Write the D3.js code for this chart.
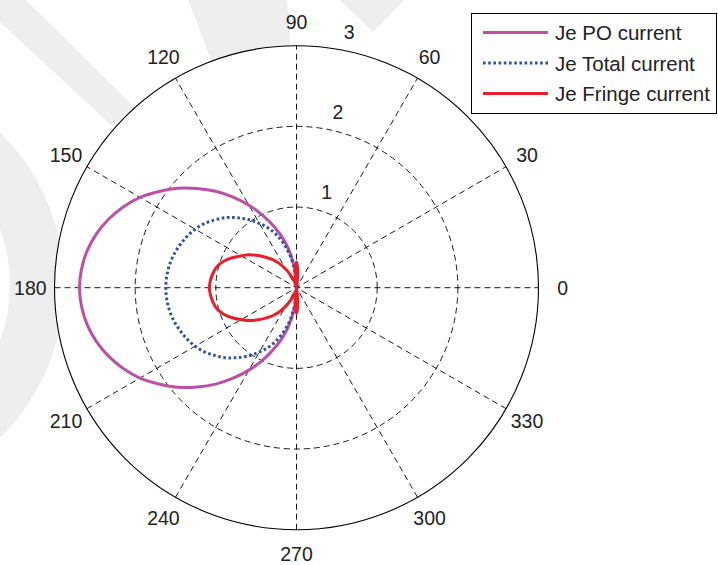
<!DOCTYPE html>
<html>
<head>
<meta charset="utf-8">
<script src="https://cdn.jsdelivr.net/npm/d3@7"></script>
<style>
  html, body { margin: 0; padding: 0; background: #fff; }
  svg { display: block; }
  text { font-family: "Liberation Sans", Arial, Helvetica, sans-serif; fill: #222; }
</style>
</head>
<body>
<svg id="chart" width="718" height="565"></svg>
<script>
// ---- data (angles in degrees, radii in plot units) ----
const angles = [80,85,90,95,100,105,110,115,120,125,130,135,140,145,150,155,160,165,170,175,180,
                185,190,195,200,205,210,215,220,225,230,235,240,245,250,255,260,265,270,275,280];
const poCurrent = [0,0,0,0.21,0.42,0.62,0.80,0.99,1.18,1.37,1.56,1.74,1.92,2.08,2.24,2.37,2.48,2.57,2.635,2.675,2.69,
                   2.675,2.635,2.57,2.48,2.37,2.24,2.08,1.92,1.74,1.56,1.37,1.18,0.99,0.80,0.62,0.42,0.21,0,0,0];
const totalCurrent = [0,0,0,0.18,0.36,0.53,0.68,0.81,0.92,1.03,1.13,1.23,1.31,1.39,1.45,1.50,1.54,1.575,1.60,1.615,1.62,
                      1.615,1.60,1.575,1.54,1.50,1.45,1.39,1.31,1.23,1.13,1.03,0.92,0.81,0.68,0.53,0.36,0.18,0,0,0];
const fringeCurrent = [0,0.18,0.32,0.18,0.04,0.05,0.10,0.17,0.26,0.36,0.45,0.53,0.62,0.71,0.79,0.88,0.96,1.02,1.05,1.07,1.08,
                       1.07,1.05,1.02,0.96,0.88,0.79,0.71,0.62,0.53,0.45,0.36,0.26,0.17,0.10,0.05,0.04,0.18,0.32,0.18,0];
const seriesNames = ["Je PO current", "Je Total current", "Je Fringe current"];
const angleTicks = [0,30,60,90,120,150,180,210,240,270,300,330];
const radialTicks = [1,2,3];
const rMax = 3;

// ---- layout ----
const svg = d3.select("#chart");
const cx = 296.5, cy = 287.7, R = 242;
const r = d3.scaleLinear().domain([0, rMax]).range([0, R]);
const toRad = d => d * Math.PI / 180;
// d3.lineRadial: angle 0 at 12 o'clock, clockwise; polar math: 0 at 3 o'clock, counter-clockwise
const lineAngle = d => toRad(90 - d);

// ---- faint watermark behind the plot ----
const wm = svg.append("g").attr("fill", "#eeeeee");
wm.append("path").attr("d", d3.arc()({innerRadius: 160, outerRadius: 214, startAngle: 0, endAngle: Math.PI}))
  .attr("transform", "translate(-150,285)");
wm.append("path").attr("d", "M0,0 L26,0 L135,108 L112,126 L0,22 Z");
wm.append("path").attr("d", "M188,0 L287,0 L292,70 L215,70 Z");
wm.append("path").attr("d", "M340,0 L404,0 L373,32 Z");

const g = svg.append("g").attr("transform", `translate(${cx},${cy})`);

// white disk
g.append("circle").attr("r", R).attr("fill", "#fff");

// dashed rings
g.selectAll("circle.ring").data(radialTicks.filter(t => t < rMax)).join("circle")
  .attr("class", "ring").attr("r", d => r(d))
  .attr("fill", "none").attr("stroke", "#000").attr("stroke-width", 0.9)
  .attr("stroke-dasharray", "6,4");

// spokes (full diameters)
g.selectAll("line.spoke").data(angleTicks.filter(a => a < 180)).join("line")
  .attr("class", "spoke")
  .attr("x1", d => -R * Math.cos(toRad(d))).attr("y1", d => R * Math.sin(toRad(d)))
  .attr("x2", d => R * Math.cos(toRad(d))).attr("y2", d => -R * Math.sin(toRad(d)))
  .attr("stroke", "#000").attr("stroke-width", 0.9).attr("stroke-dasharray", "6,4");

// outer circle
g.append("circle").attr("r", R).attr("fill", "none").attr("stroke", "#000").attr("stroke-width", 1.1);

// angle labels
g.selectAll("text.ang").data(angleTicks).join("text")
  .attr("class", "ang")
  .attr("x", d => 1.1 * R * Math.cos(toRad(d)))
  .attr("y", d => -1.1 * R * Math.sin(toRad(d)))
  .attr("text-anchor", "middle").attr("dominant-baseline", "central")
  .attr("font-size", 19.5)
  .text(d => d);

// radial labels
g.selectAll("text.rad").data(radialTicks).join("text")
  .attr("class", "rad")
  .attr("x", d => r(d + 0.05) * Math.cos(toRad(82)) + 13)
  .attr("y", d => -r(d + 0.05) * Math.sin(toRad(82)) - 5)
  .attr("text-anchor", "start")
  .attr("font-size", 19.5)
  .text(d => d);

// curves
const styles = [
  {vals: poCurrent, color: "#bd4fa6", width: 3, dash: null},
  {vals: totalCurrent, color: "#2c50a8", width: 3, dash: "2.6,2.6"},
  {vals: fringeCurrent, color: "#e9202b", width: 3, dash: null}
];
const radial = d3.lineRadial()
  .angle(d => lineAngle(d[0]))
  .radius(d => r(d[1]))
  .curve(d3.curveCatmullRom.alpha(0.5));
styles.forEach(s => {
  const pts = angles.map((a, i) => [a, s.vals[i]]);
  g.append("path").attr("d", radial(pts))
    .attr("fill", "none").attr("stroke", s.color).attr("stroke-width", s.width)
    .attr("stroke-linejoin", "round")
    .attr("stroke-dasharray", s.dash);
});

// legend
const lg = svg.append("g");
lg.append("rect").attr("x", 471.5).attr("y", 13.5).attr("width", 245).attr("height", 100)
  .attr("fill", "#fff").attr("stroke", "#000").attr("stroke-width", 1);
const rowY = [32.5, 63, 93.5];
seriesNames.forEach((name, i) => {
  lg.append("line").attr("x1", 483).attr("x2", 548).attr("y1", rowY[i]).attr("y2", rowY[i])
    .attr("stroke", styles[i].color).attr("stroke-width", styles[i].width)
    .attr("stroke-dasharray", styles[i].dash);
  lg.append("text").attr("x", 555).attr("y", rowY[i]).attr("dominant-baseline", "central")
    .attr("font-size", 20.5).text(name);
});
</script>
</body>
</html>
